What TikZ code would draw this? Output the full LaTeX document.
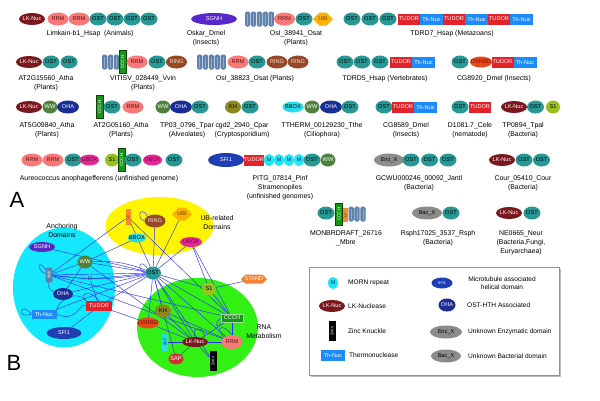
\documentclass[tikz,border=0pt]{standalone}
\usepackage{fontspec}
\setmainfont{Liberation Sans}
\usetikzlibrary{shapes.geometric,shapes.symbols}
\pgfdeclarelayer{back}\pgfdeclarelayer{mid}
\pgfsetlayers{back,mid,main}
\definecolor{ostc}{RGB}{40,152,148}
\definecolor{rrmc}{RGB}{250,120,120}
\definecolor{rrmt}{RGB}{90,20,20}
\definecolor{lkc}{RGB}{122,24,30}
\definecolor{sgnhc}{RGB}{88,40,200}
\definecolor{ubic}{RGB}{250,178,0}
\definecolor{ubit}{RGB}{110,60,0}
\definecolor{tudc}{RGB}{226,36,42}
\definecolor{thnc}{RGB}{28,140,250}
\definecolor{ringc}{RGB}{150,72,40}
\definecolor{ringt}{RGB}{245,225,205}
\definecolor{ankc}{RGB}{95,130,172}
\definecolor{ccchc}{RGB}{22,150,22}
\definecolor{ccchd}{RGB}{10,70,10}
\definecolor{wwc}{RGB}{80,130,62}
\definecolor{ohac}{RGB}{26,46,150}
\definecolor{khc}{RGB}{140,135,30}
\definecolor{bboxc}{RGB}{40,220,232}
\definecolor{dsrc}{RGB}{232,72,30}
\definecolor{dsrt}{RGB}{110,20,10}
\definecolor{uboxc}{RGB}{230,40,150}
\definecolor{uboxt}{RGB}{100,10,60}
\definecolor{s1c}{RGB}{152,192,30}
\definecolor{sfic}{RGB}{32,62,180}
\definecolor{mc}{RGB}{30,230,242}
\definecolor{mt}{RGB}{20,40,120}
\definecolor{grayc}{RGB}{140,140,140}
\definecolor{sapc}{RGB}{210,50,50}
\definecolor{standc}{RGB}{240,130,50}
\definecolor{lfc}{RGB}{245,140,40}
\definecolor{cyanbg}{RGB}{20,232,252}
\definecolor{yelbg}{RGB}{255,245,0}
\definecolor{grnbg}{RGB}{50,240,20}
\definecolor{edgec}{RGB}{45,45,255}
\newcommand\dfont{\fontsize{5.6}{6}\selectfont}
\newcommand\cfont{\fontsize{4.6}{5}\selectfont}
\newcommand\tfont{\fontsize{3.8}{4}\selectfont}
\newcommand\lfont{\fontsize{6.9}{9}\selectfont}
\newcommand\gfont{\fontsize{6.6}{8.4}\selectfont}
\newcommand\dmn[5]{\node[#1] (#2) at (#3,#4) {\makebox[0pt]{#5}};}
\newcommand\ankr[3]{\foreach \i in {1,...,#3}{%
  \fill[ankc,rounded corners=1.6pt] ({#1+(\i-1)*5.9},{#2-7.5}) rectangle ++(5.3,15);
  \fill[white,opacity=0.35] ({#1+(\i-1)*5.9+2.2},{#2-5.5}) rectangle ++(0.9,11);}}
\tikzset{
 dom/.style={inner sep=0pt, outer sep=0pt, font=\dfont, draw=none},
 ell/.style={dom, ellipse},
 ost/.style={ell, fill=ostc, minimum width=17pt, minimum height=13pt},
 rrm/.style={ell, fill=rrmc, text=rrmt, minimum width=21pt, minimum height=13pt},
 lk/.style={ell, fill=lkc, text=white, minimum width=26pt, minimum height=12pt},
 sgnh/.style={ell, fill=sgnhc, text=white, minimum width=46pt, minimum height=12pt},
 ubi/.style={dom, signal, signal to=east and west, fill=ubic, text=ubit, minimum width=20pt, minimum height=13pt},
 tud/.style={dom, rectangle, fill=tudc, text=white, minimum width=22pt, minimum height=11pt},
 thn/.style={dom, rectangle, fill=thnc, text=white, minimum width=23pt, minimum height=11pt},
 ring/.style={ell, fill=ringc, text=ringt, minimum width=21pt, minimum height=13pt},
 ccchv/.style={dom, rectangle, fill=ccchc, draw=ccchd, line width=0.4pt, text=white, rotate=90, minimum width=23pt, minimum height=7pt, font=\cfont},
 ccchh/.style={dom, rectangle, fill=ccchc, draw=white!60!ccchc, line width=0.4pt, text=white, minimum width=22pt, minimum height=8pt},
 ww/.style={ell, fill=wwc, text=white, minimum width=15pt, minimum height=13pt},
 oha/.style={ell, fill=ohac, text=white, minimum width=22pt, minimum height=13pt},
 kh/.style={ell, fill=khc, minimum width=16pt, minimum height=13pt},
 bbox/.style={ell, fill=bboxc, minimum width=21pt, minimum height=11pt},
 dsr/.style={ell, fill=dsrc, text=dsrt, minimum width=22pt, minimum height=11pt},
 ubox/.style={ell, fill=uboxc, text=uboxt, minimum width=19pt, minimum height=11pt},
 s1/.style={ell, fill=s1c, minimum width=14pt, minimum height=13pt},
 sfi/.style={ell, fill=sfic, text=white, minimum width=36pt, minimum height=14pt},
 mm/.style={ell, fill=mc, text=mt, minimum width=10pt, minimum height=12pt},
 gx/.style={ell, fill=grayc, minimum width=30pt, minimum height=13pt},
 sap/.style={ell, fill=sapc, text=white, minimum width=15pt, minimum height=11pt},
 stand/.style={dom, signal, signal to=east and west, fill=standc, text=white, minimum width=26pt, minimum height=9pt},
 lfv/.style={dom, rectangle, fill=lfc, text=ubit, rotate=90, minimum width=16pt, minimum height=5pt, font=\tfont},
 znk/.style={dom, rectangle, fill=black, text=white, rotate=90, minimum width=20pt, minimum height=7pt, font=\tfont},
 znf/.style={dom, rectangle, fill=bboxc, text=black, rotate=90, minimum width=17pt, minimum height=6pt, font=\tfont},
 ankn/.style={dom, rectangle, rounded corners=2pt, fill=ankc, text=white, rotate=90, minimum width=15pt, minimum height=7pt, font=\tfont},
 lab/.style={inner sep=0pt, anchor=north, align=center, font=\lfont},
 ltext/.style={inner sep=0pt, anchor=west, font=\gfont},
 grp/.style={inner sep=0pt, align=center, font=\fontsize{6.9}{8.8}\selectfont},
 lnk/.style={draw=edgec, line width=0.45pt},
}
\begin{document}
\begin{tikzpicture}[x=1pt,y=-1pt]
\useasboundingbox (0,0) rectangle (600,400);
\begin{pgfonlayer}{back}
\fill[white] (0,0) rectangle (600,400);
\fill[cyanbg] (64,287.5) ellipse [x radius=51pt, y radius=60pt];
\fill[yelbg] (159.5,226) ellipse [x radius=54pt, y radius=29pt];
\fill[grnbg] (197.5,327.5) ellipse [x radius=60.5pt, y radius=49.5pt];
\end{pgfonlayer}
% ---------- Row 1 ----------
\dmn{lk}{a1}{32}{19}{LK-Nuc}
\dmn{rrm}{a2}{58}{19}{RRM}
\dmn{rrm}{a3}{79}{19}{RRM}
\dmn{ost}{a4}{98}{19}{OST}
\dmn{ost}{a5}{115}{19}{OST}
\dmn{ost}{a6}{132}{19}{OST}
\dmn{ost}{a7}{149}{19}{OST}
\node[lab] (ta) at (90,30.5) {Limkain-b1\_Hsap\ \ (Animals)};
\dmn{sgnh}{b1}{214}{19}{SGNH}
\node[lab] (tb) at (206,30.5) {Oskar\_Dmel\\(Insects)};
\ankr{245}{19}{5}
\dmn{rrm}{c1}{284.5}{19}{RRM}
\dmn{ost}{c2}{304}{19}{OST}
\dmn{ubi}{c3}{323}{19}{UBI}
\node[lab] (tc) at (296,30.5) {OsI\_38941\_Osat\\(Plants)};
\dmn{ost}{d1}{352}{19}{OST}
\dmn{ost}{d2}{370}{19}{OST}
\dmn{ost}{d3}{388}{19}{OST}
\dmn{tud}{d4}{409}{19}{TUDOR}
\dmn{thn}{d5}{431.5}{19}{Th-Nuc}
\dmn{tud}{d6}{454}{19}{TUDOR}
\dmn{thn}{d7}{476.5}{19}{Th-Nuc}
\dmn{tud}{d8}{499}{19}{TUDOR}
\dmn{thn}{d9}{521.5}{19}{Th-Nuc}
\node[lab] (td) at (452,30.5) {TDRD7\_Hsap (Metazoans)};
% ---------- Row 2 ----------
\dmn{lk}{e1}{29}{62}{LK-Nuc}
\dmn{ost}{e2}{51}{62}{OST}
\dmn{ost}{e3}{69}{62}{OST}
\node[lab] (te) at (46,75.5) {AT2G15560\_Atha\\(Plants)};
\ankr{102}{62}{3}
\dmn{ccchv}{f1}{122.5}{62}{CCCH}
\dmn{rrm}{f2}{137}{62}{RRM}
\dmn{ost}{f3}{157}{62}{OST}
\dmn{ring}{f4}{176.5}{62}{RING}
\node[lab] (tf) at (143,75.5) {VITISV\_028449\_Vvin\\(Plants)};
\ankr{197}{62}{5}
\dmn{rrm}{g1}{238}{62}{RRM}
\dmn{ost}{g2}{257}{62}{OST}
\dmn{ring}{g3}{277}{62}{RING}
\dmn{ring}{g4}{298}{62}{RING}
\node[lab] (tg) at (255,75.5) {OsI\_38823\_Osat (Plants)};
\dmn{ost}{h1}{345}{62}{OST}
\dmn{ost}{h2}{362}{62}{OST}
\dmn{ost}{h3}{380}{62}{OST}
\dmn{tud}{h4}{401}{62}{TUDOR}
\dmn{thn}{h5}{423.5}{62}{Th-Nuc}
\node[lab] (th) at (385,75.5) {TDRD5\_Hsap (Vertebrates)};
\dmn{ost}{i1}{460}{62}{OST}
\dmn{dsr}{i2}{481}{62}{DSRBD}
\dmn{tud}{i3}{502.5}{62}{TUDOR}
\dmn{thn}{i4}{525}{62}{Th-Nuc}
\node[lab] (ti) at (494,75.5) {CG8920\_Dmel (Insects)};
% ---------- Row 3 ----------
\dmn{lk}{j1}{29}{107}{LK-Nuc}
\dmn{ww}{j2}{50}{107}{WW}
\dmn{oha}{j3}{68}{107}{OHA}
\node[lab] (tj) at (47,122.5) {AT5G09840\_Atha\\(Plants)};
\dmn{ccchv}{k1}{99.5}{107}{CCCH}
\dmn{ost}{k2}{112}{107}{OST}
\dmn{rrm}{k3}{133}{107}{RRM}
\node[lab] (tk) at (121,122.5) {AT2G05160\_Atha\\(Plants)};
\dmn{ww}{l1}{163}{107}{WW}
\dmn{oha}{l2}{181}{107}{OHA}
\dmn{ost}{l3}{200}{107}{OST}
\node[lab] (tl) at (187,122.5) {TP03\_0796\_Tpar\\(Alveolates)};
\dmn{kh}{m1}{233}{107}{KH}
\dmn{ost}{m2}{250}{107}{OST}
\node[lab] (tm) at (242,122.5) {cgd2\_2940\_Cpar\\(Cryptosporidium)};
\dmn{bbox}{n1}{293}{107}{BBOX}
\dmn{ww}{n2}{312}{107}{WW}
\dmn{oha}{n3}{331}{107}{OHA}
\dmn{ost}{n4}{350}{107}{OST}
\node[lab] (tn) at (322,122.5) {TTHERM\_00129230\_Tthe\\(Ciliophora)};
\dmn{ost}{o1}{384}{107}{OST}
\dmn{tud}{o2}{403}{107}{TUDOR}
\dmn{thn}{o3}{425.5}{107}{Th-Nuc}
\node[lab] (to) at (406,122.5) {CG8589\_Dmel\\(Insects)};
\dmn{ost}{p1}{460}{107}{OST}
\dmn{tud}{p2}{480}{107}{TUDOR}
\node[lab] (tp) at (470,122.5) {D1081.7\_Cele\\(nematode)};
\dmn{lk}{q1}{514}{107}{LK-Nuc}
\dmn{ost}{q2}{535.5}{107}{OST}
\dmn{s1}{q3}{553}{107}{S1}
\node[lab] (tq) at (523,122.5) {TP0894\_Tpal\\(Bacteria)};
% ---------- Row 4 ----------
\dmn{rrm}{r1}{32}{160}{RRM}
\dmn{rrm}{r2}{53}{160}{RRM}
\dmn{ost}{r3}{73}{160}{OST}
\dmn{ubox}{r4}{89.5}{160}{UBOX}
\dmn{s1}{r5}{112}{160}{S1}
\dmn{ccchv}{r6}{121.5}{160}{CCCH}
\dmn{ost}{r7}{133}{160}{OST}
\dmn{ubox}{r8}{152.5}{160}{UBOX}
\dmn{ost}{r9}{174}{160}{OST}
\node[lab] (tr) at (99,175.5) {Aureococcus anophagefferens (unfinished genome)};
\dmn{sfi}{s1n}{226}{160}{SFI1}
\dmn{tud, minimum width=20pt}{s2}{254}{160}{TUDOR}
\dmn{mm}{s3}{269}{160}{M}
\dmn{mm}{s4}{279}{160}{M}
\dmn{mm}{s5}{289}{160}{M}
\dmn{mm}{s6}{299}{160}{M}
\dmn{ost}{s7}{312}{160}{OST}
\dmn{ww}{s8}{328}{160}{WW}
\node[lab] (ts) at (280,175.5) {PITG\_07814\_Pinf\\Stramenopiles\\(unfinished genomes)};
\dmn{gx}{u1}{389}{160}{Enz\_X}
\dmn{ost}{u2}{411}{160}{OST}
\dmn{ost}{u3}{429.5}{160}{OST}
\dmn{ost}{u4}{448}{160}{OST}
\node[lab] (tu) at (419,175.5) {GCWU000246\_00092\_Jantl\\(Bacteria)};
\dmn{lk}{v1}{502}{160}{LK-Nuc}
\dmn{ost}{v2}{524}{160}{OST}
\dmn{ost}{v3}{541.5}{160}{OST}
\node[lab] (tv) at (523,175.5) {Cour\_05410\_Cour\\(Bacteria)};
% ---------- Row 5 ----------
\dmn{ost}{w1}{326}{213}{OST}
\dmn{ccchv, minimum width=22pt}{w2}{339}{214}{CCCH}
\dmn{lfv, minimum width=14pt}{w3}{345.5}{215}{LF}
\ankr{348.5}{214}{3}
\node[lab] (tw) at (346,230.5) {MONBRDRAFT\_26716\\\_Mbre};
\dmn{gx}{x1}{427}{213}{Bac\_X}
\dmn{ost}{x2}{451}{213}{OST}
\node[lab] (tx) at (438,230.5) {Rsph17025\_3537\_Rsph\\(Bacteria)};
\dmn{lk}{y1}{509}{213}{LK-Nuc}
\dmn{ost}{y2}{532}{213}{OST}
\node[lab] (ty) at (521,230.5) {NE0665\_Neur\\(Bacteria,Fungi,\\Euryarchaea)};
% ---------- panel letters ----------
\node[inner sep=0pt, font=\fontsize{22}{22}\selectfont] (lblA) at (17,200) {A};
\node[inner sep=0pt, font=\fontsize{22}{22}\selectfont] (lblB) at (14,363) {B};
% ---------- Network ----------
\node[grp] (gA) at (62,230.5) {Anchoring\\Domains};
\node[grp] (gU) at (217,222.5) {UB-related\\Domains};
\node[grp] (gR) at (264,331.5) {RNA\\Metabolism};
\dmn{ost, minimum width=16pt}{nOST}{153}{273}{OST}
\dmn{sgnh, minimum width=26pt, minimum height=10pt}{nSGNH}{42}{247}{SGNH}
\dmn{ww}{nWW}{85}{262}{WW}
\dmn{ankn}{nANK}{49}{275}{ANK}
\node[inner sep=0pt, font=\dfont, text=black!75] (nM) at (90,279) {M};
\dmn{oha, minimum width=20pt, minimum height=12pt}{nOHA}{63}{294}{OHA}
\dmn{tud, minimum width=26pt, minimum height=10pt}{nTUD}{99}{306}{TUDOR}
\dmn{thn, minimum width=25pt, minimum height=9pt}{nTHN}{44}{314}{Th-Nuc}
\dmn{sfi, minimum width=35pt, minimum height=12pt}{nSFI}{64}{333}{SFI1}
\dmn{kh}{nKH}{163}{311}{KH}
\dmn{dsr}{nDSR}{148}{323}{DSRBD}
\dmn{znf}{nZNF}{165}{342}{ZnF}
\dmn{lk, minimum height=10pt}{nLK}{195}{342}{LK-Nuc}
\dmn{sap}{nSAP}{176}{359}{SAP}
\dmn{znk}{nZNK}{213}{361}{ZnKn}
\dmn{rrm, minimum height=14pt}{nRRM}{232}{342}{RRM}
\dmn{ccchh}{nCCCH}{232}{318}{CCCH}
\dmn{s1}{nS1}{209}{289}{S1}
\dmn{stand}{nSTAND}{254}{279}{STAND}
\dmn{bbox, minimum width=18pt, minimum height=9pt}{nBBOX}{137}{238}{BBOX}
\dmn{ring}{nRING}{155}{221}{RING}
\dmn{ubi}{nUBI}{182}{214}{UBI}
\dmn{ubox, minimum width=22pt, minimum height=10pt}{nUBOX}{191}{242}{UBOX}
\dmn{lfv}{nLF}{128}{217}{LF}
\begin{pgfonlayer}{mid}
\foreach \a/\b in {nOST/nSGNH, nOST/nWW, nOST/nANK, nOST/nM, nOST/nOHA, nOST/nTUD,
  nOST/nTHN, nOST/nRING, nOST/nUBI, nOST/nUBOX, nOST/nLF, nOST/nKH, nOST/nDSR,
  nOST/nLK, nOST/nRRM, nOST/nCCCH, nOST/nS1, nOST/nSAP, nOST/nZNK,
  nANK/nRRM, nANK/nCCCH, nANK/nLF, nANK/nWW, nANK/nM, nWW/nOHA, nWW/nLK, nWW/nBBOX,
  nTUD/nSFI, nTUD/nDSR, nTUD/nM, nRRM/nLK, nRRM/nCCCH, nRRM/nKH, nS1/nCCCH,
  nUBOX/nS1, nSTAND/nS1, nLK/nSAP, nLK/nZNK, nLF/nCCCH, nZNF/nLK, nUBOX/nCCCH,
  nLK/nCCCH, nKH/nLK, nDSR/nLK}
  \draw[lnk] (\a) -- (\b);
\draw[lnk] (nWW) to[bend left=12] (nOST);
\draw[lnk] (nANK) to[bend right=8] (nOST);
\draw[lnk] (nANK) to[bend right=40] (nOHA);
\draw[lnk] (nANK) .. controls (36,270) and (38,258) .. (nANK);
\draw[lnk] (nTHN.west) .. controls (20,300) and (16,320) .. (nTHN.west);
\draw[lnk] (nTHN.east) .. controls (78,324) and (80,300) .. (nTUD.west);
\draw[lnk] (nTHN.north east) .. controls (60,298) and (78,290) .. (nTUD.north west);
\draw[lnk] (nTUD.north) .. controls (92,290) and (78,292) .. (nTUD.north west);
\draw[lnk] (nOST.west) .. controls (136,270) and (140,257) .. (nOST.north west);
\draw[lnk] (nRING.west) .. controls (136,219) and (140,204) .. (nRING.north west);
\draw[lnk] (nRRM.north west) .. controls (214,330) and (222,321) .. (nRRM.north);
\draw[lnk] (nLK.north) .. controls (190,326) and (206,326) .. (nLK.north east);
\draw[lnk] (nCCCH.west) .. controls (214,322) and (216,332) .. (nCCCH.south west);
\end{pgfonlayer}
% ---------- Legend ----------
\draw[gray!55, line width=1.4pt] (311,376.2) -- (560.2,376.2) -- (560.2,269);
\draw[gray!85, line width=0.9pt] (309,267) rectangle (559,375);
\dmn{mm}{lgM}{333}{283}{M}
\node[ltext] (lgMt) at (348,283) {MORN repeat};
\dmn{lk}{lgLK}{332}{306}{LK-Nuc}
\node[ltext] (lgLKt) at (348,306) {LK-Nuclease};
\dmn{znk}{lgZK}{332}{331}{ZnKn}
\node[ltext] (lgZKt) at (348,331) {Zinc Knuckle};
\dmn{thn, minimum width=24pt}{lgTH}{333}{355}{Th-Nuc}
\node[ltext] (lgTHt) at (349,355) {Thermonuclease};
\dmn{sfi, minimum width=21pt, minimum height=11pt, font=\tfont}{lgSF}{442}{283}{SFI1}
\node[inner sep=0pt, align=center, font=\gfont] (lgSFt) at (502,283) {Microtubule associated\\helical domain};
\dmn{oha, minimum width=17pt}{lgOHA}{447}{305}{OHA}
\node[ltext] (lgOHAt) at (467,305) {OST-HTH Associated};
\dmn{gx, minimum width=32pt}{lgEZ}{446}{332}{Enz\_X}
\node[ltext] (lgEZt) at (468,332) {Unknown Enzymatic domain};
\dmn{gx}{lgBX}{446}{356}{Bac\_X}
\node[ltext] (lgBXt) at (468,356) {Unknown Bacterial domain};
\end{tikzpicture}
\end{document}
